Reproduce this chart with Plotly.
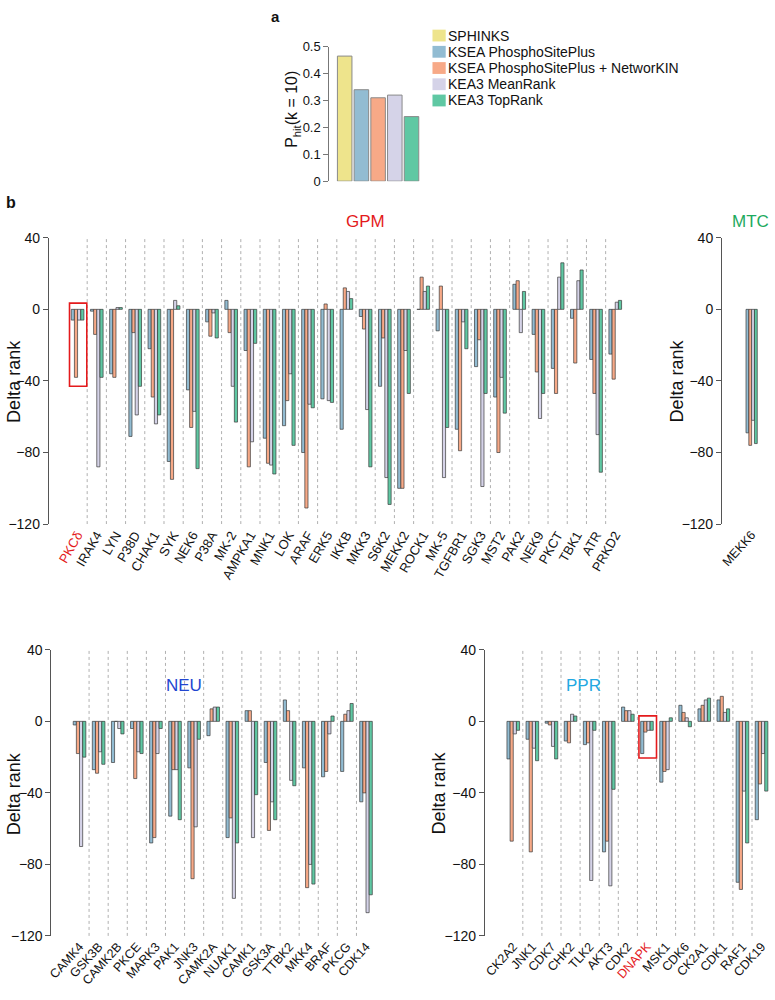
import plotly.graph_objects as go

W, H = 775, 1000
FONT = "Liberation Sans, Arial, Helvetica, sans-serif"

# ---------------- data ----------------
methods_a = ["SPHINKS", "KSEA PhosphoSitePlus", "KSEA PhosphoSitePlus + NetworKIN",
             "KEA3 MeanRank", "KEA3 TopRank"]
phit = [0.465, 0.34, 0.31, 0.32, 0.24]
yticks_a = [0, 0.1, 0.2, 0.3, 0.4, 0.5]
yticktext_a = ["0", "0.1", "0.2", "0.3", "0.4", "0.5"]

series_names = ["KSEA PhosphoSitePlus", "KSEA PhosphoSitePlus + NetworKIN",
                "KEA3 MeanRank", "KEA3 TopRank"]

gpm_kinases = ["PKCδ", "IRAK4", "LYN", "P38D", "CHAK1", "SYK", "NEK6", "P38A", "MK-2",
               "AMPKA1", "MNK1", "LOK", "ARAF", "ERK5", "IKKB", "MKK3", "S6K2", "MEKK2",
               "ROCK1", "MK-5", "TGFBR1", "SGK3", "MST2", "PAK2", "NEK9", "PKCT", "TBK1",
               "ATR", "PRKD2"]
gpm_ksea = [-6, -1, -36, -71, -22, -85, -45, -7, 5, -23, -72, -65, -80, -50, -67, -4, -43,
            -100, 0, -12, -67, -32, -49, 14, -14, -33, -5, -28, -25]
gpm_ksea_nk = [-38, -14, -38, -13, -49, -95, -66, -15, -13, -88, -86, -51, -111, 3, 12, -11,
               -16, -100, 18, 13, -79, -17, -80, 16, -35, -47, -30, -47, -39]
gpm_kea3_mean = [-6, -88, 1, -59, -64, 5, -57, -2, -43, -74, -87, -36, -53, -51, 10, -56,
                 -94, -23, 10, -94, -7, -99, -38, -13, -61, 18, 16, -70, 4]
gpm_kea3_top = [-6, -38, 1, -43, -59, 2, -89, -16, -63, -19, -92, -76, -55, -52, 6, -88,
                -109, -47, 13, -66, -22, -47, -58, 10, -47, 26, 22, -91, 5]

mtc_kinases = ["MEKK6"]
mtc_ksea = [-69]
mtc_ksea_nk = [-76]
mtc_kea3_mean = [-62]
mtc_kea3_top = [-75]

neu_kinases = ["CAMK4", "GSK3B", "CAMK2B", "PKCE", "MARK3", "PAK1", "JNK3", "CAMK2A",
               "NUAK1", "CAMK1", "GSK3A", "TTBK2", "MKK4", "BRAF", "PKCG", "CDK14"]
neu_ksea = [-2, -27, -23, -4, -68, -53, -26, -8, -65, 6, -23, 12, -26, -31, -28, -45]
neu_ksea_nk = [-18, -29, 0, -32, -65, -27, -88, 7, -54, 6, -61, 6, -93, -28, 4, -40]
neu_kea3_mean = [-70, -17, -4, -17, -18, -27, -59, 8, -99, -65, -45, -33, -80, -7, 6, -107]
neu_kea3_top = [-20, -24, -7, -18, -4, -55, -10, 8, -68, -41, -55, -36, -91, 3, 10, -97]

ppr_kinases = ["CK2A2", "JNK1", "CDK7", "CHK2", "TLK2", "AKT3", "CDK2", "DNAPK", "MSK1",
               "CDK6", "CK2A1", "CDK1", "RAF1", "CDK19"]
ppr_ksea = [-21, -10, -1, -11, -13, -73, 8, -18, -34, 9, 7, 12, -90, -55]
ppr_ksea_nk = [-67, -73, -2, -12, -12, -67, 6, -6, -28, 5, 9, 14, -94, -35]
ppr_kea3_mean = [-7, -15, -14, 4, -89, -92, 6, -5, -27, 2, 12, 5, -39, -18]
ppr_kea3_top = [-5, -22, -21, 3, -5, -38, 4, -5, 2, -3, 13, 7, -68, -39]

delta_ticks = [40, 0, -40, -80, -120]
highlighted = ["PKCδ", "DNAPK"]

# ---------------- styles ----------------
colors_a = ["#EEE48C", "#92BCD2", "#F7A987", "#D5D3E8", "#5FC8A3"]
series_colors = colors_a[1:]
RED = "#E41A1C"


def px_x(p):
    return p / W


def px_y(p):
    return 1 - p / H


fig = go.Figure()

# ---------------- panel a ----------------
fig.add_trace(go.Bar(
    x=list(range(len(methods_a))), y=phit, width=0.87,
    marker=dict(color=colors_a, line=dict(color="#8a8a8a", width=1)),
    xaxis="x", yaxis="y", showlegend=False, name="P_hit",
    hovertext=methods_a,
))

panels = [
    # name, axis suffix, kinases, series, x-domain px, y-domain px, range, tick angle, tick size
    ("GPM", "2", gpm_kinases, [gpm_ksea, gpm_ksea_nk, gpm_kea3_mean, gpm_kea3_top],
     (45, 626), (524.5, 233.5), -1.5, 28.6, -60, 13),
    ("MTC", "3", mtc_kinases, [mtc_ksea, mtc_ksea_nk, mtc_kea3_mean, mtc_kea3_top],
     (721.7, 761.8), (524.5, 233.5), -1.74, 0.6, -48, 12.5),
    ("NEU", "4", neu_kinases, [neu_ksea, neu_ksea_nk, neu_kea3_mean, neu_kea3_top],
     (47.7, 375.4), (943, 652.3), -1.47, 15.6, -48, 12.5),
    ("PPR", "5", ppr_kinases, [ppr_ksea, ppr_ksea_nk, ppr_kea3_mean, ppr_kea3_top],
     (483.3, 773), (943, 652.3), -1.49, 13.6, -48, 12.5),
]

bar_w = 0.165
offsets = [-0.33, -0.165, 0.0, 0.165]

layout_axes = {}
shapes = []
for name, sfx, kin, series, xd, yd, r0, r1, ang, tsize in panels:
    xs = list(range(len(kin)))
    for k, vals in enumerate(series):
        fig.add_trace(go.Bar(
            x=xs, y=vals, width=bar_w, offset=offsets[k],
            marker=dict(color=series_colors[k], line=dict(color="#3a3a3a", width=0.7)),
            xaxis="x" + sfx, yaxis="y" + sfx, name=series_names[k], showlegend=False,
        ))
    ticktext = [f'<span style="color:{RED}">{t}</span>' if t in highlighted else t for t in kin]
    layout_axes["xaxis" + sfx] = dict(
        domain=[px_x(xd[0]), px_x(xd[1])], range=[r0, r1], anchor="y" + sfx,
        showline=False, showgrid=False, zeroline=False, ticks="",
        tickmode="array", tickvals=xs, ticktext=ticktext, tickangle=ang,
        tickfont=dict(size=tsize, color="#111", family=FONT),
    )
    layout_axes["yaxis" + sfx] = dict(
        domain=[px_y(yd[0]), px_y(yd[1])], range=[-120, 40], anchor="x" + sfx,
        showline=True, linecolor="#555", linewidth=1, showgrid=False, zeroline=False,
        ticks="outside", ticklen=5, tickcolor="#555", tickmode="array",
        tickvals=delta_ticks, tickfont=dict(size=14, color="#111", family=FONT),
    )
    for i in range(len(kin) - 1):
        shapes.append(dict(type="line", xref="x" + sfx, yref="y" + sfx,
                           x0=i + 0.5, x1=i + 0.5, y0=-120, y1=40, layer="below",
                           line=dict(color="#b0b0b0", width=1, dash="3px,3px")))

# red highlight boxes
pk = gpm_kinases.index("PKCδ")
shapes.append(dict(type="rect", xref="x2", yref="y2", x0=pk - 0.42, x1=pk + 0.48,
                   y0=-43, y1=3.5, line=dict(color=RED, width=1.6)))
dn = ppr_kinases.index("DNAPK")
shapes.append(dict(type="rect", xref="x5", yref="y5", x0=dn - 0.42, x1=dn + 0.5,
                   y0=-20.5, y1=3.1, line=dict(color=RED, width=1.6)))

# legend for panel a (manual)
annotations = []
for i, (m, c) in enumerate(zip(methods_a, colors_a)):
    yc = 28 + 16.5 * i
    shapes.append(dict(type="rect", xref="paper", yref="paper",
                       x0=px_x(430.7), x1=px_x(444), y0=px_y(yc + 6), y1=px_y(yc - 6),
                       fillcolor=c, line=dict(width=0)))
    annotations.append(dict(text=m, xref="paper", yref="paper", x=px_x(444.5), y=px_y(yc),
                            xanchor="left", yanchor="middle", showarrow=False,
                            font=dict(size=14, color="#111", family=FONT)))

# axis titles
for xc, yc in [(10, 379), (676, 379), (10, 798), (437.5, 798)]:
    annotations.append(dict(text="Delta rank", xref="paper", yref="paper", x=px_x(xc), y=px_y(yc),
                            xanchor="center", yanchor="middle", textangle=-90, showarrow=False,
                            font=dict(size=18, color="#111", family=FONT)))
annotations.append(dict(text="P<sub>hit</sub>(k = 10)", xref="paper", yref="paper",
                        x=px_x(290), y=px_y(103), xanchor="center", yanchor="middle",
                        textangle=-90, showarrow=False,
                        font=dict(size=16, color="#111", family=FONT)))

# panel titles
for txt, col, xc, yc in [("GPM", "#E41A1C", 363, 217), ("MTC", "#1DAA5E", 750, 217),
                         ("NEU", "#2245D0", 181, 689), ("PPR", "#22A8E2", 583, 689)]:
    annotations.append(dict(text=txt, xref="paper", yref="paper", x=px_x(xc), y=px_y(yc),
                            xanchor="center", yanchor="middle", showarrow=False,
                            font=dict(size=17, color=col, family=FONT)))

# panel letters
annotations.append(dict(text="<b>a</b>", xref="paper", yref="paper", x=px_x(273), y=px_y(9),
                        xanchor="center", yanchor="middle", showarrow=False,
                        font=dict(size=15, color="#111", family=FONT)))
annotations.append(dict(text="<b>b</b>", xref="paper", yref="paper", x=px_x(7), y=px_y(198),
                        xanchor="center", yanchor="middle", showarrow=False,
                        font=dict(size=16, color="#111", family=FONT)))

fig.update_layout(
    width=W, height=H, margin=dict(l=0, r=0, t=0, b=0),
    paper_bgcolor="white", plot_bgcolor="white", barmode="overlay",
    showlegend=False, font=dict(family=FONT, color="#111"),
    xaxis=dict(domain=[px_x(327), px_x(419.7)], range=[-0.92, 4.6], anchor="y",
               showline=False, showgrid=False, zeroline=False, showticklabels=False, ticks=""),
    yaxis=dict(domain=[px_y(176), px_y(39.3)], range=[0, 0.5], anchor="x",
               showline=True, linecolor="#777", linewidth=1, showgrid=False, zeroline=False,
               ticks="outside", ticklen=5, tickcolor="#777", tickmode="array",
               tickvals=yticks_a, ticktext=yticktext_a,
               tickfont=dict(size=13, color="#111", family=FONT)),
    shapes=shapes, annotations=annotations,
    **layout_axes,
)

# remove the browser's default body margin so the 775x1000 figure fills the window exactly
post = (
    "document.documentElement.style.margin='0';"
    "document.body.style.margin='0';document.body.style.padding='0';"
    "document.body.style.overflow='hidden';"
    "var gd=document.getElementById('{plot_id}');"
    "gd.style.position='absolute';gd.style.left='0px';gd.style.top='0px';"
)

fig.write_html("out.html", config={"displayModeBar": False}, post_script=post)
